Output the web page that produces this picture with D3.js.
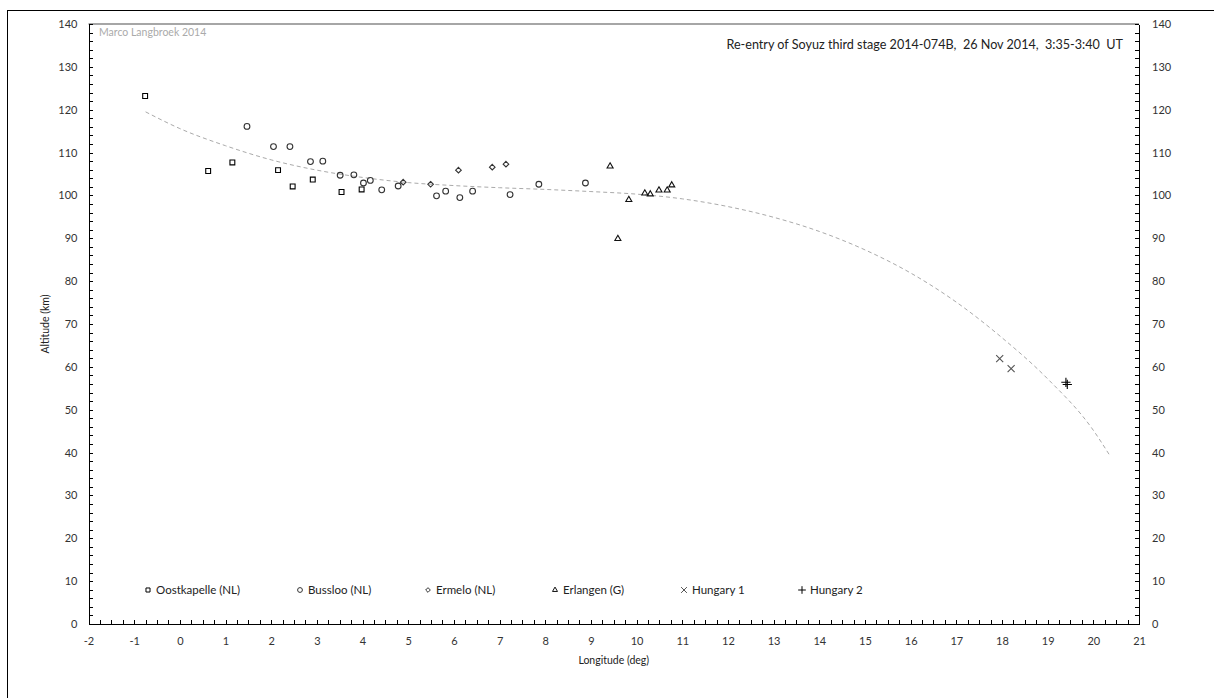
<!DOCTYPE html>
<html lang="en">
<head>
    <meta charset="UTF-8">
    <title>Soyuz re-entry</title>
    <script src="https://cdn.jsdelivr.net/npm/d3@7/dist/d3.min.js"></script>
    <style>
        body{
            margin: 0;
            background: #fff;
        }
        .axis text{
            font-family: Lato, 'Open Sans', sans-serif;
            font-size: 11px;
            fill: #333;
        }
        .axis line{
            stroke: #000;
            shape-rendering: crispEdges;
        }
        .axis path{
            stroke: #000;
            shape-rendering: crispEdges;
        }
        .lbl{
            font-family: Lato, 'Open Sans', sans-serif;
            fill: #222;
            white-space: pre;
        }
    </style>
</head>
<body>
    <div id="container"></div>
</body>
</html>
<script>
    // observations: [longitude (deg), altitude (km)]
    let oostkapelle = [[-0.76, 123.2], [0.62, 105.7], [1.15, 107.7], [2.15, 105.9], [2.47, 102.1],
        [2.91, 103.7], [3.54, 100.8], [3.98, 101.4]]
    let bussloo = [[1.47, 116.1], [2.05, 111.4], [2.41, 111.4], [2.86, 107.9], [3.13, 108.0],
        [3.51, 104.7], [3.81, 104.8], [4.02, 102.9], [4.17, 103.5], [4.42, 101.3], [4.78, 102.2],
        [5.62, 99.9], [5.82, 101.0], [6.13, 99.5], [6.41, 101.0], [7.23, 100.2], [7.86, 102.6], [8.88, 102.9]]
    let ermelo = [[4.89, 103.1], [5.49, 102.6], [6.10, 105.9], [6.84, 106.6], [7.14, 107.3]]
    let erlangen = [[9.42, 106.8], [9.59, 89.9], [9.83, 99.0], [10.18, 100.5], [10.30, 100.3],
        [10.49, 101.2], [10.67, 101.2], [10.77, 102.4]]
    let hungary1 = [[17.95, 61.9], [18.20, 59.6]]
    let hungary2 = [[19.40, 56.4], [19.43, 55.9]]

    // trend line
    let trend = [[-0.75, 119.5], [0, 115.6], [1, 111.6], [2, 108.3], [3, 105.9], [4, 104.2], [5, 103.0],
        [6, 102.3], [7, 101.8], [8, 101.4], [9, 100.9], [10, 100.3], [11, 99.2], [12, 97.4], [13, 94.9],
        [14, 91.6], [15, 87.3], [16, 81.9], [17, 75.1], [18, 66.8], [19, 57.2], [20, 45.2], [20.35, 39.5]]

    let seriesNames = ["Oostkapelle (NL)", "Bussloo (NL)", "Ermelo (NL)", "Erlangen (G)", "Hungary 1", "Hungary 2"]
    let xTicks = d3.range(-2, 22, 1)
    let yTicks = d3.range(0, 150, 10)

    let width = 1214
    let height = 698
    let pLeft = 88.5, pRight = 1139, pTop = 24, pBottom = 624
    let legendX = [148, 300, 428, 555, 684, 802]

    let series = [
        {name: seriesNames[0], data: oostkapelle, sym: d3.symbolSquare2, size: 30, color: "#000"},
        {name: seriesNames[1], data: bussloo, sym: d3.symbolCircle, size: 26, color: "#333"},
        {name: seriesNames[2], data: ermelo, sym: d3.symbolDiamond2, size: 20, color: "#333"},
        {name: seriesNames[3], data: erlangen, sym: d3.symbolTriangle2, size: 26, color: "#111"},
        {name: seriesNames[4], data: hungary1, sym: d3.symbolTimes, size: 34, color: "#555"},
        {name: seriesNames[5], data: hungary2, sym: d3.symbolPlus, size: 30, color: "#000"}
    ]

    let svg = d3.select("#container")
        .append("svg")
        .attr("width", width)
        .attr("height", height)

    // outer chart frame (runs off the right and bottom)
    svg.append("rect")
        .attr("x", 7.5).attr("y", 10.5)
        .attr("width", 1300).attr("height", 800)
        .attr("fill", "#fff").attr("stroke", "#000")

    let xScale = d3.scaleLinear().domain([-2, 21]).range([pLeft, pRight])
    let yScale = d3.scaleLinear().domain([0, 140]).range([pBottom, pTop])

    // plot area top edge is grey
    svg.append("line")
        .attr("x1", pLeft).attr("x2", pRight)
        .attr("y1", pTop).attr("y2", pTop)
        .attr("stroke", "#888").attr("stroke-width", 1.5)

    // minor ticks
    svg.append("g").attr("class", "axis")
        .attr("transform", "translate(0," + pBottom + ")")
        .call(d3.axisBottom(xScale).tickValues(d3.range(-2, 21.01, 0.25)).tickSize(-4).tickSizeOuter(0).tickFormat(""))
    svg.append("g").attr("class", "axis")
        .attr("transform", "translate(" + pLeft + ",0)")
        .call(d3.axisLeft(yScale).tickValues(d3.range(0, 141, 2)).tickSize(-4).tickSizeOuter(0).tickFormat(""))
    svg.append("g").attr("class", "axis")
        .attr("transform", "translate(" + pRight + ",0)")
        .call(d3.axisRight(yScale).tickValues(d3.range(0, 141, 2)).tickSize(-4).tickSizeOuter(0).tickFormat(""))

    // labelled axes
    svg.append("g").attr("class", "axis")
        .attr("transform", "translate(0," + pBottom + ")")
        .call(d3.axisBottom(xScale).tickValues(xTicks).tickSize(-4).tickSizeOuter(0).tickPadding(13))
    svg.append("g").attr("class", "axis")
        .attr("transform", "translate(" + pLeft + ",0)")
        .call(d3.axisLeft(yScale).tickValues(yTicks).tickSize(-4).tickSizeOuter(0).tickPadding(11))
    svg.append("g").attr("class", "axis")
        .attr("transform", "translate(" + pRight + ",0)")
        .call(d3.axisRight(yScale).tickValues(yTicks).tickSize(-4).tickSizeOuter(0).tickPadding(13))

    svg.selectAll(".axis text").text(function () { return this.textContent.replace("−", "-") })

    // trend line
    let line = d3.line()
        .x(d => xScale(d[0]))
        .y(d => yScale(d[1]))
        .curve(d3.curveMonotoneX)
    svg.append("path")
        .datum(trend)
        .attr("d", line)
        .attr("fill", "none")
        .attr("stroke", "#aaa")
        .attr("stroke-width", 1)
        .attr("stroke-dasharray", "4,3")

    // points
    series.forEach(s => {
        svg.append("g").selectAll("path")
            .data(s.data)
            .enter()
            .append("path")
            .attr("transform", d => "translate(" + xScale(d[0]) + "," + yScale(d[1]) + ")")
            .attr("d", d3.symbol().type(s.sym).size(s.size))
            .attr("fill", "none")
            .attr("stroke", s.color)
            .attr("stroke-width", 1.1)
    })

    // legend
    let legend = svg.append("g").attr("transform", "translate(0,590)")
    series.forEach((s, i) => {
        legend.append("path")
            .attr("transform", "translate(" + legendX[i] + ",0)")
            .attr("d", d3.symbol().type(s.sym).size(s.size * 0.7))
            .attr("fill", "none")
            .attr("stroke", s.color)
            .attr("stroke-width", 1)
        legend.append("text")
            .attr("class", "lbl")
            .attr("x", legendX[i] + 8)
            .attr("y", 4)
            .attr("font-size", 11.5)
            .text(s.name)
    })

    // texts
    svg.append("text")
        .attr("class", "lbl")
        .attr("x", 1123).attr("y", 49)
        .attr("text-anchor", "end")
        .attr("font-size", 12.6)
        .text("Re-entry of Soyuz third stage 2014-074B,  26 Nov 2014,  3:35-3:40  UT")

    svg.append("text")
        .attr("class", "lbl")
        .attr("x", 99).attr("y", 36)
        .attr("font-size", 10.5)
        .style("fill", "#aaa")
        .text("Marco Langbroek 2014")

    svg.append("text")
        .attr("class", "lbl")
        .attr("x", (pLeft + pRight) / 2).attr("y", 664)
        .attr("text-anchor", "middle")
        .attr("font-size", 10.5)
        .text("Longitude (deg)")

    svg.append("text")
        .attr("class", "lbl")
        .attr("transform", "translate(49," + (pTop + pBottom) / 2 + ") rotate(-90)")
        .attr("text-anchor", "middle")
        .attr("font-size", 10.5)
        .text("Altitude (km)")
</script>
